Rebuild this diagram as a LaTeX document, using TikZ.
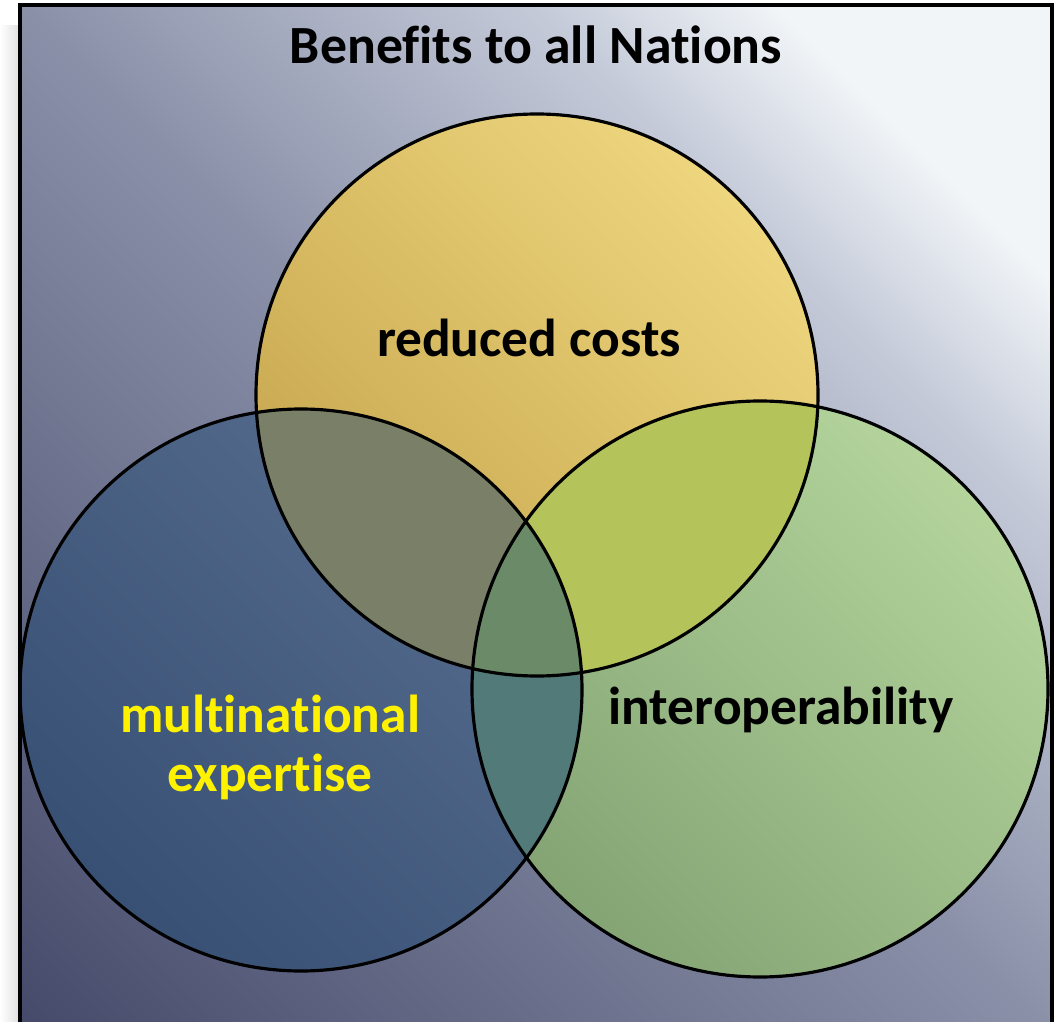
\documentclass[tikz,border=0pt]{standalone}
\usepackage{fontspec}
\setmainfont{Carlito}[Ligatures=NoCommon]
\usetikzlibrary{positioning}
\definecolor{bgdark}{HTML}{454A6A}
\definecolor{bgmid}{HTML}{8A90A8}
\definecolor{bglight}{HTML}{C4CAD8}
\definecolor{bgwhite}{HTML}{F1F5F8}
\definecolor{golddark}{HTML}{C6A64E}
\definecolor{goldlight}{HTML}{EED67E}
\definecolor{bluedark}{HTML}{385074}
\definecolor{bluelight}{HTML}{566D8E}
\definecolor{greendark}{HTML}{84A474}
\definecolor{greenlight}{HTML}{B4D49C}
\definecolor{costsexpert}{HTML}{7A8068}
\definecolor{costsinterop}{HTML}{B5C45A}
\definecolor{expertinterop}{HTML}{527A78}
\definecolor{allthree}{HTML}{6A8A68}
\pgfdeclarehorizontalshading{bgfade}{100bp}{color(0bp)=(bgdark); color(14.6bp)=(bgdark);
  color(50bp)=(bgmid); color(67.7bp)=(bglight); color(76bp)=(bgwhite); color(100bp)=(bgwhite)}
\begin{document}
\begin{tikzpicture}
\tikzstyle{label}=[font=\bfseries\fontsize{15.2}{16.8}\selectfont,align=center,inner sep=0pt]
\tikzstyle{ring}=[draw=black,line width=0.9pt]
\useasboundingbox (0,0) rectangle (10.56,10.21);
% backdrop
\shade[left color=white,right color=gray!25] (0,0) rectangle (0.2,9.95);
\shade[shading=bgfade,shading angle=45] (0.2,-0.1) rectangle (10.52,10.16);
% circle centres
\coordinate (costsC) at (5.37,6.26);
\coordinate (expertC) at (3.01,3.31);
\coordinate (interopC) at (7.60,3.32);
% circles
\shade[left color=greendark,right color=greenlight,shading angle=135] (interopC) circle (2.88);
\shade[left color=golddark,right color=goldlight,shading angle=135] (costsC) circle (2.81);
\shade[left color=bluedark,right color=bluelight,shading angle=135] (expertC) circle (2.81);
% overlaps
\begin{scope}
\clip (costsC) circle (2.81);
\fill[costsexpert] (expertC) circle (2.81);
\fill[costsinterop] (interopC) circle (2.88);
\end{scope}
\begin{scope}
\clip (expertC) circle (2.81);
\fill[expertinterop] (interopC) circle (2.88);
\clip (costsC) circle (2.81);
\fill[allthree] (interopC) circle (2.88);
\end{scope}
\draw[ring] (interopC) circle (2.88);
\draw[ring] (costsC) circle (2.81);
\draw[ring] (expertC) circle (2.81);
% frame
\draw[line width=1pt] (0.2,-0.1) rectangle (10.52,10.16);
% texts
\node[font=\bfseries\fontsize{15.3}{17}\selectfont,inner sep=0pt,anchor=base] (title) at (5.36,9.57) {Benefits to all Nations};
\node[label,anchor=base] (costs) at (5.29,6.64) {reduced costs};
\node[label,anchor=base] (interop) at (7.81,2.97) {interoperability};
\node[label,text=yellow] (expert) at (2.70,2.74) {multinational\\expertise};
\end{tikzpicture}
\end{document}
